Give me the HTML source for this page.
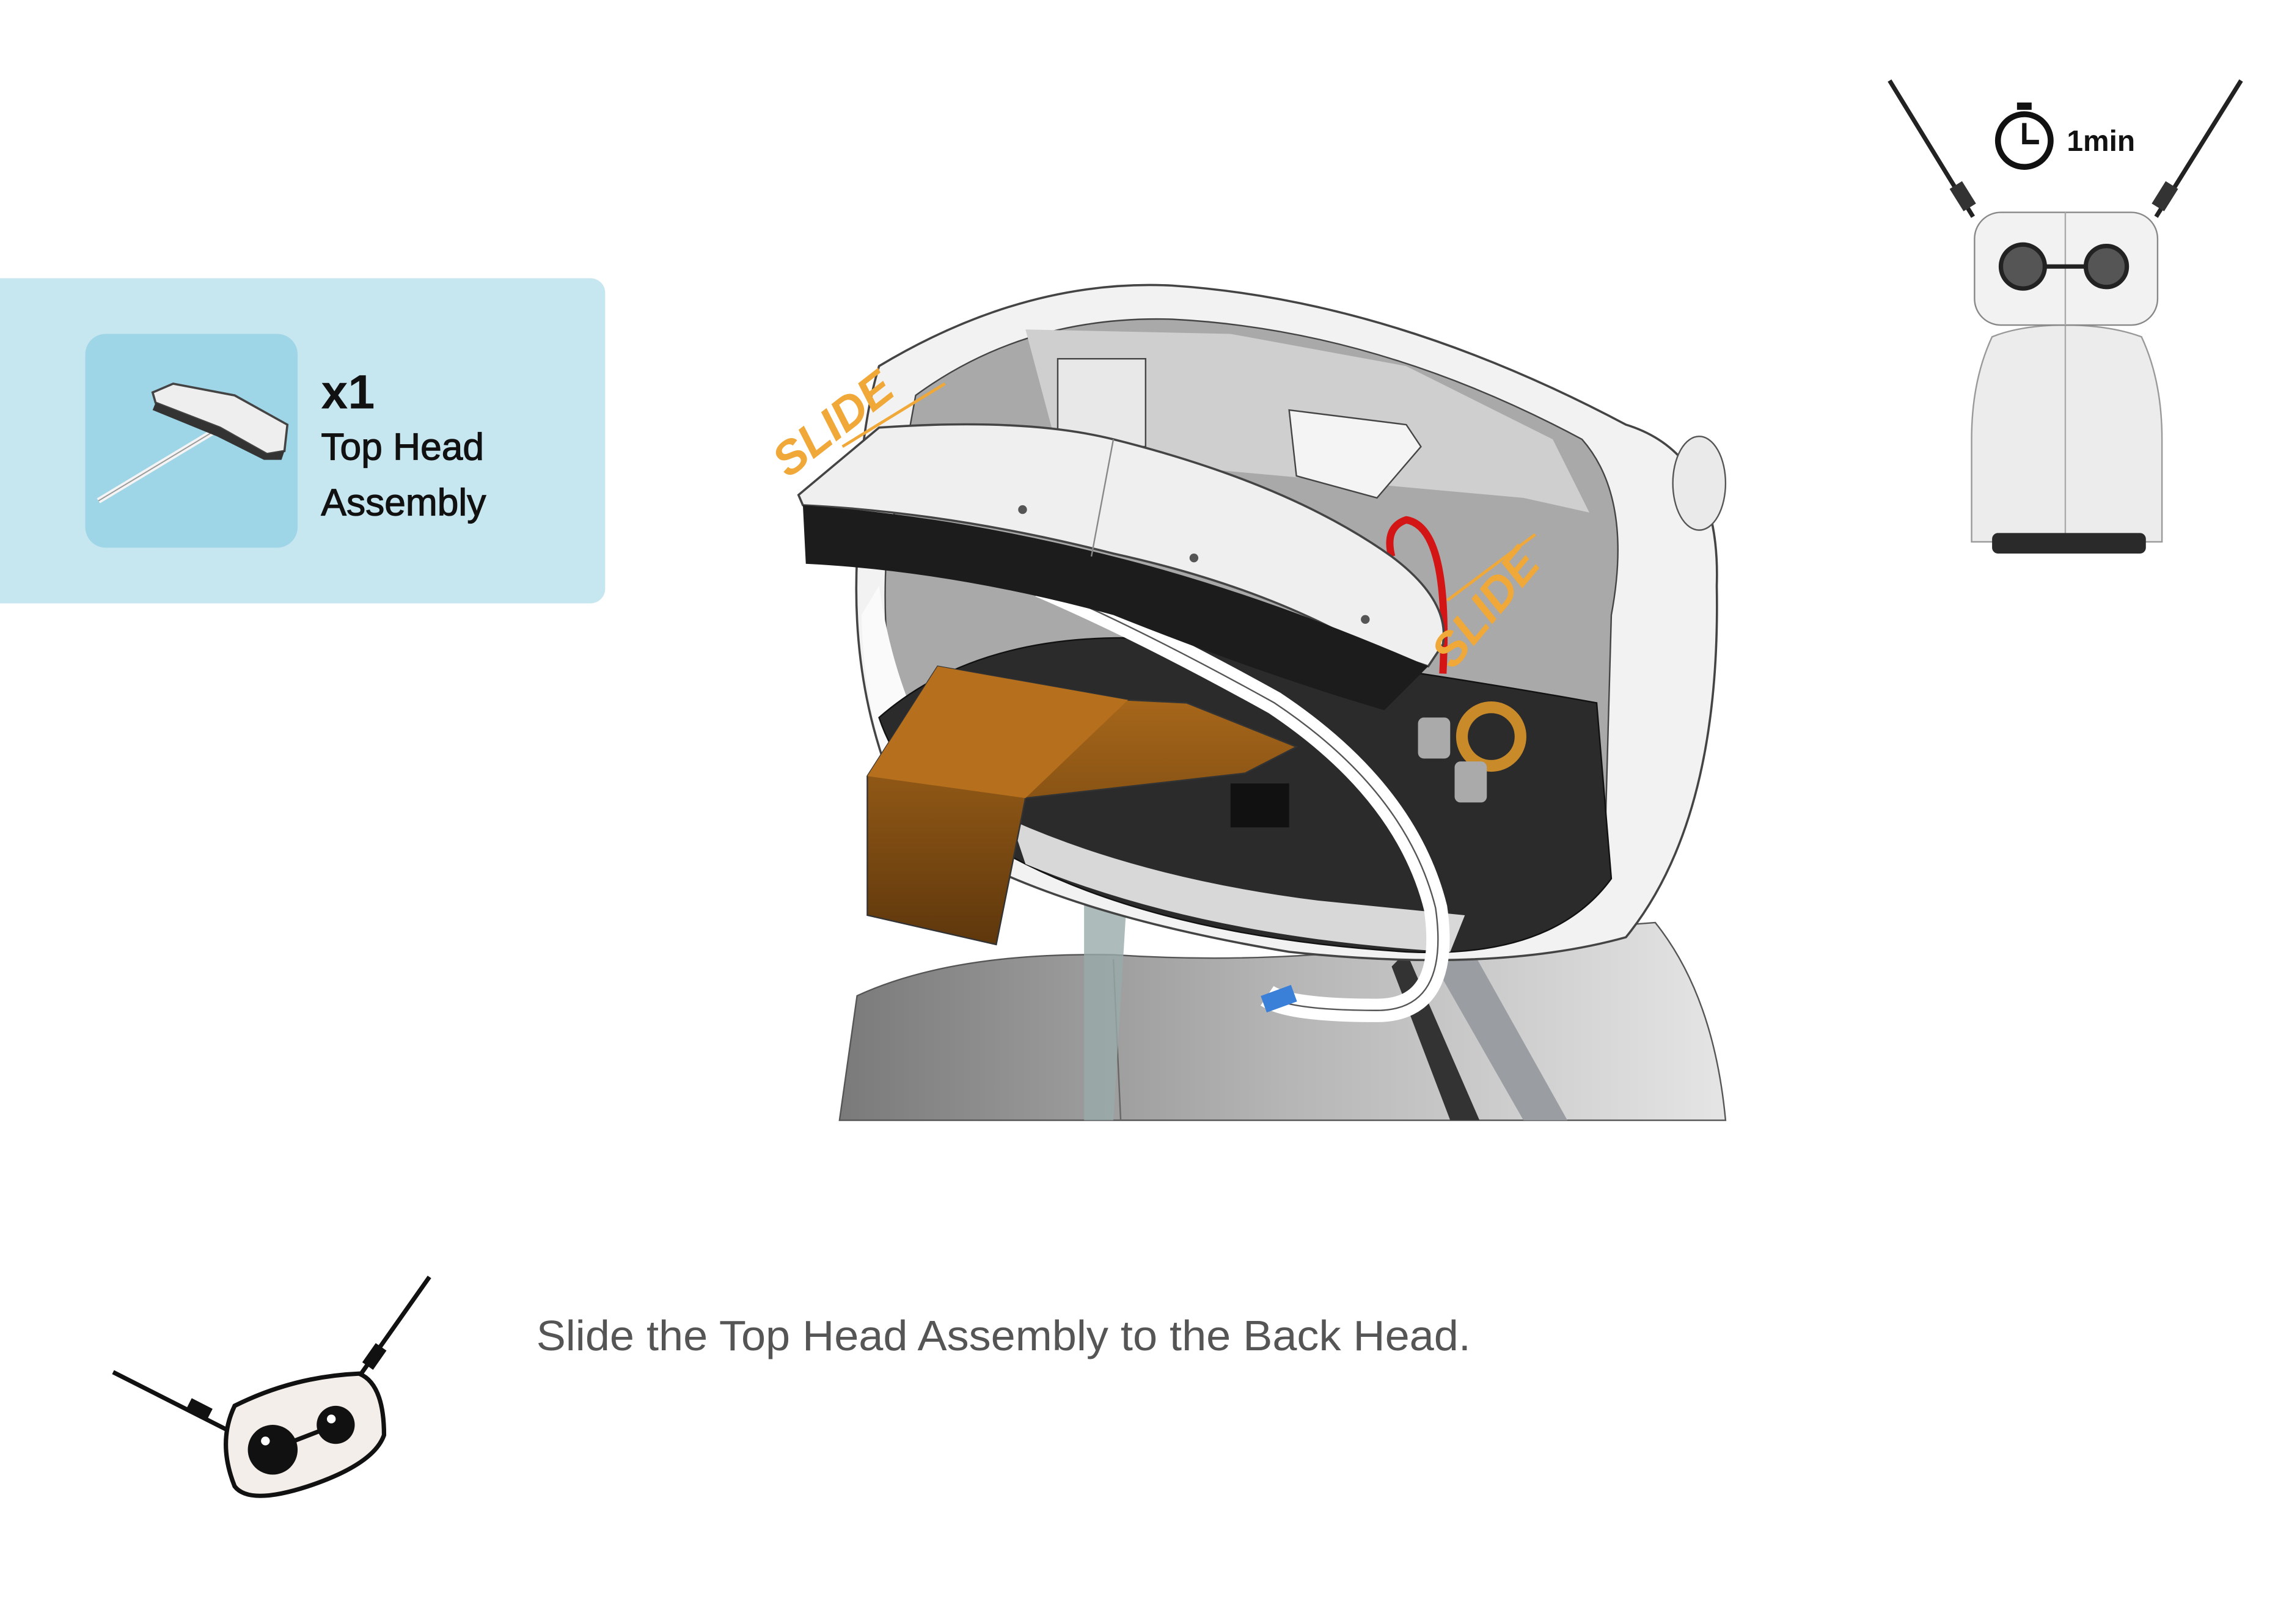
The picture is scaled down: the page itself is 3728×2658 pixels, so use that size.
<!DOCTYPE html>
<html><head><meta charset="utf-8"><style>
html,body{margin:0;padding:0;background:#fff;}
svg{display:block;}
text{font-family:"Liberation Sans",sans-serif;}
</style></head><body>
<svg width="3728" height="2658" viewBox="0 0 1555 1109" xmlns="http://www.w3.org/2000/svg">
<defs>
<linearGradient id="gb" x1="0" y1="0" x2="1" y2="0"><stop offset="0" stop-color="#7a7a7a"/><stop offset="0.5" stop-color="#b5b5b5"/><stop offset="1" stop-color="#e5e5e5"/></linearGradient>
<linearGradient id="go" x1="0" y1="0" x2="0" y2="1"><stop offset="0" stop-color="#b06d1c"/><stop offset="1" stop-color="#5e370c"/></linearGradient>
</defs>
<rect x="-10" y="190" width="423" height="222" rx="10" fill="#c6e6f0"/>
<rect x="58" y="228" width="145" height="146" rx="14" fill="#9fd6e7"/>
<line x1="67" y1="342" x2="150" y2="292" stroke="#f4f4f4" stroke-width="4"/>
<line x1="67" y1="342" x2="150" y2="292" stroke="#999" stroke-width="0.8"/>
<path d="M104 268 L118 262 L160 270 L196 290 L194 308 L182 310 L150 292 L106 275 Z" fill="#eee" stroke="#444" stroke-width="1.5"/>
<path d="M106 275 L150 292 L182 310 L194 308 L192 314 L180 314 L148 298 L104 280 Z" fill="#333"/>
<text x="219" y="279" font-size="33" font-weight="bold" fill="#111">x1</text>
<text x="219" y="314" font-size="26" fill="#111" stroke="#111" stroke-width="0.5">Top Head</text>
<text x="219" y="352" font-size="26" fill="#111" stroke="#111" stroke-width="0.5">Assembly</text>

<path d="M573 765 L585 680 Q650 650 760 652 Q880 660 1000 640 L1130 630 Q1170 680 1178 765 Z" fill="url(#gb)" stroke="#555" stroke-width="1"/>
<line x1="760" y1="655" x2="765" y2="765" stroke="#666"/>
<path d="M740 600 L770 600 L760 765 L740 765 Z" fill="#9aa" opacity="0.8"/>
<path d="M1000 640 L1070 765 L1040 765 L980 660 Z" fill="#9a9ea3"/>
<path d="M960 650 L1010 765 L990 765 L950 660 Z" fill="#333"/>
<path d="M600 250 Q700 190 800 195 Q950 205 1110 290 Q1175 310 1172 400 Q1175 560 1110 640 Q1020 665 880 650 Q700 620 620 560 Q580 480 585 380 Q585 300 600 250 Z" fill="#f2f2f2" stroke="#444" stroke-width="1.5"/>
<ellipse cx="1160" cy="330" rx="18" ry="32" fill="#eaeaea" stroke="#555"/>
<path d="M625 270 Q700 215 800 218 Q940 225 1080 300 Q1115 340 1100 420 L1095 600 Q1000 640 860 625 Q700 600 625 545 Q600 460 605 380 Z" fill="#a9a9a9" stroke="#444"/>
<path d="M700 225 L840 228 L960 250 L1060 300 L1085 350 L1040 340 L820 320 L720 300 Z" fill="#cfcfcf"/>
<rect x="722" y="245" width="60" height="60" fill="#e8e8e8" stroke="#444"/>
<path d="M880 280 L960 290 L970 305 L940 340 L885 325 Z" fill="#f4f4f4" stroke="#444"/>
<path d="M600 400 Q610 470 640 520 L620 560 Q590 500 588 420 Z" fill="#fafafa"/>
<path d="M600 490 Q680 420 830 440 Q980 460 1090 480 L1100 600 Q1060 655 960 650 Q800 640 700 590 Q620 550 600 490 Z" fill="#2b2b2b" stroke="#111"/>
<rect x="840" y="535" width="40" height="30" fill="#111"/>
<circle cx="1018" cy="503" r="20" fill="none" stroke="#c98a2a" stroke-width="8"/>
<rect x="968" y="490" width="22" height="28" rx="4" fill="#aaa"/>
<rect x="993" y="520" width="22" height="28" rx="4" fill="#aaa"/>
<path d="M690 560 Q780 600 900 615 L1000 625 L990 650 Q820 640 700 590 Z" fill="#d8d8d8"/>
<path d="M985 460 Q990 360 960 355 Q945 360 950 380" fill="none" stroke="#d41515" stroke-width="5"/>
<path d="M710 400 Q780 430 870 480 Q960 540 980 620 Q990 690 940 690 Q880 690 865 680" fill="none" stroke="#fff" stroke-width="16"/>
<path d="M710 400 Q780 430 870 480 Q960 540 980 620 Q990 690 940 690 Q880 690 865 680" fill="none" stroke="#555" stroke-width="1"/>
<rect x="862" y="676" width="22" height="12" fill="#3a7fd8" transform="rotate(-20 873 682)"/>
<path d="M545 338 L600 292 Q700 285 760 300 Q880 330 950 380 Q990 410 985 440 L975 455 L930 440 Q860 400 760 378 Q650 350 548 345 Z" fill="#efefef" stroke="#444" stroke-width="1.5"/>
<path d="M548 345 Q650 352 760 380 Q860 405 975 455 L945 485 Q860 460 760 420 Q650 390 550 385 Z" fill="#1c1c1c"/>
<line x1="760" y1="300" x2="745" y2="380" stroke="#888"/>
<circle cx="698" cy="348" r="3" fill="#555"/><circle cx="815" cy="381" r="3" fill="#555"/><circle cx="932" cy="423" r="3" fill="#555"/>
<path d="M592 530 L640 455 L770 478 L810 480 L885 510 L850 528 L700 545 L680 645 L592 625 Z" fill="url(#go)" stroke="#333"/>
<path d="M592 530 L640 455 L770 478 L700 545 Z" fill="#b56f1d"/>
<text x="0" y="0" font-size="32" font-weight="bold" font-style="italic" fill="#f0a838" transform="translate(538 327) rotate(-38)">SLIDE</text>
<line x1="575" y1="305" x2="645" y2="262" stroke="#f0a838" stroke-width="2"/>
<text x="0" y="0" font-size="32" font-weight="bold" font-style="italic" fill="#f0a838" transform="translate(992 458) rotate(-50)">SLIDE</text>
<line x1="988" y1="410" x2="1048" y2="365" stroke="#f0a838" stroke-width="2"/>

<line x1="1290" y1="55" x2="1347" y2="148" stroke="#222" stroke-width="3"/>
<line x1="1530" y1="55" x2="1472" y2="148" stroke="#222" stroke-width="3"/>
<rect x="1335" y="125" width="10" height="18" fill="#333" transform="rotate(-32 1340 134)"/>
<rect x="1473" y="125" width="10" height="18" fill="#333" transform="rotate(32 1478 134)"/>
<path d="M1360 230 Q1380 222 1410 222 Q1440 222 1462 230 Q1476 260 1476 300 L1476 370 L1346 370 L1346 300 Q1346 260 1360 230 Z" fill="#ececec" stroke="#999"/>
<line x1="1410" y1="222" x2="1410" y2="370" stroke="#aaa"/>
<rect x="1360" y="364" width="105" height="14" rx="4" fill="#2a2a2a"/>
<rect x="1348" y="145" width="125" height="77" rx="18" fill="#f2f2f2" stroke="#888"/>
<line x1="1410" y1="145" x2="1410" y2="222" stroke="#aaa"/>
<line x1="1381" y1="182" x2="1438" y2="182" stroke="#222" stroke-width="3"/>
<circle cx="1381" cy="182" r="15" fill="#555" stroke="#222" stroke-width="3"/>
<circle cx="1438" cy="182" r="14" fill="#555" stroke="#222" stroke-width="3"/>
<circle cx="1382" cy="96" r="18" fill="none" stroke="#111" stroke-width="4"/>
<rect x="1377" y="70" width="10" height="5" fill="#111"/>
<path d="M1382 84 L1382 97 L1392 97" fill="none" stroke="#111" stroke-width="3"/>
<text x="1411" y="103" font-size="20" font-weight="bold" fill="#111">1min</text>

<line x1="77" y1="937" x2="158" y2="978" stroke="#111" stroke-width="3"/>
<line x1="293" y1="872" x2="245" y2="940" stroke="#111" stroke-width="3"/>
<rect x="128" y="958" width="16" height="9" fill="#111" transform="rotate(27 136 962)"/>
<rect x="247" y="922" width="16" height="9" fill="#111" transform="rotate(-55 255 926)"/>
<path d="M160 960 Q200 940 245 938 Q262 945 262 980 Q255 1000 210 1015 Q170 1028 160 1015 Q148 985 160 960 Z" fill="#f3eee9" stroke="#111" stroke-width="3"/>
<line x1="185" y1="990" x2="229" y2="973" stroke="#111" stroke-width="3"/>
<circle cx="186" cy="990" r="17" fill="#111"/>
<circle cx="229" cy="973" r="13" fill="#111"/>
<circle cx="181" cy="984" r="3" fill="#fff"/><circle cx="226" cy="969" r="3" fill="#fff"/>

<text x="366" y="922" font-size="29" fill="#555" textLength="638" lengthAdjust="spacingAndGlyphs">Slide the Top Head Assembly to the Back Head.</text>
</svg>
</body></html>
